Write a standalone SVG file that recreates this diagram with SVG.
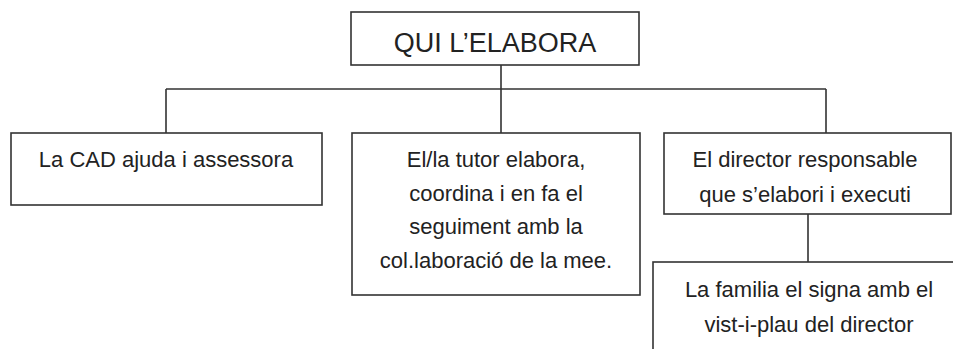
<svg xmlns="http://www.w3.org/2000/svg" width="953" height="349" viewBox="0 0 953 349">
<style>
.box{fill:#fff;stroke:#333;stroke-width:1.6}
.ln{fill:none;stroke:#333;stroke-width:1.6}
text{font-family:"Liberation Sans",Arial,sans-serif;font-size:22px;fill:#222;text-anchor:middle}
.title{font-size:27px}
</style>
<rect width="953" height="349" fill="#fff"/>
<g id="connectors">
<path class="ln" d="M501 65V89M166 89H826M166 89V133M501 89V133M826 89V133M808 214V262"/>
</g>
<g id="n-title">
<rect class="box" x="351" y="12" width="288" height="53"/>
<text class="title" x="495" y="52">QUI L’ELABORA</text>
</g>
<g id="n-cad">
<rect class="box" x="11" y="133" width="311" height="72"/>
<text x="166" y="167">La CAD ajuda i assessora</text>
</g>
<g id="n-tutor">
<rect class="box" x="352" y="133" width="288" height="162"/>
<text x="496" y="167">El/la tutor elabora,</text>
<text x="496" y="201">coordina i en fa el</text>
<text x="496" y="234">seguiment amb la</text>
<text x="496" y="268">col.laboració de la mee.</text>
</g>
<g id="n-director">
<rect class="box" x="664" y="133" width="287" height="81"/>
<text x="805" y="167">El director responsable</text>
<text x="805" y="202">que s’elabori i executi</text>
</g>
<g id="n-familia">
<rect class="box" x="653" y="262" width="310" height="100"/>
<text x="809" y="297">La familia el signa amb el</text>
<text x="809" y="332">vist-i-plau del director</text>
</g>
</svg>
